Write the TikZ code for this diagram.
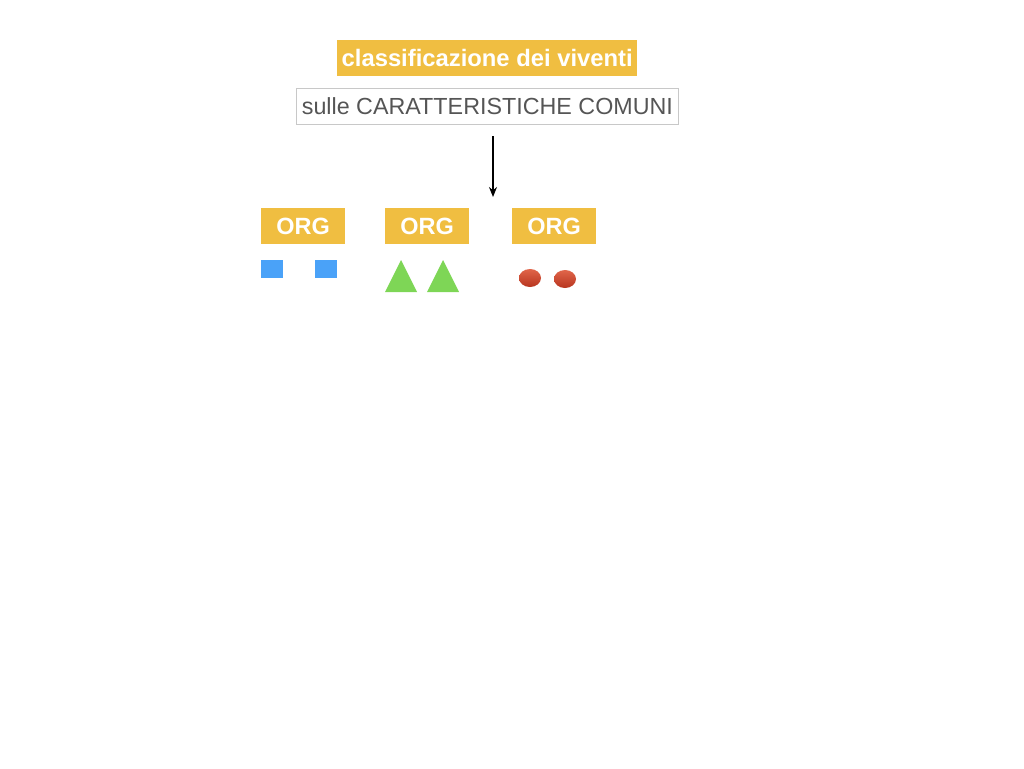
\documentclass[tikz,border=0pt]{standalone}
\usepackage{fontspec}
\setmainfont{Liberation Sans}
\usetikzlibrary{arrows.meta}
\definecolor{ybox}{HTML}{F0BE41}
\definecolor{sqblue}{HTML}{4AA2F8}
\definecolor{trgreen}{HTML}{7ED656}
\definecolor{elred}{HTML}{B8351F}
\definecolor{elredtop}{HTML}{E0654A}
\definecolor{txtgray}{HTML}{555555}
\definecolor{bordgray}{HTML}{C8C8C8}
\begin{document}
\begin{tikzpicture}[x=1pt,y=-1pt,
  ybox/.style={fill=ybox,text=white,font=\bfseries,inner sep=0pt,anchor=north west},
  orgbox/.style={ybox,minimum width=84pt,minimum height=36pt,font=\fontsize{23.5}{26}\selectfont\bfseries},
  sq/.style={fill=sqblue},
  tri/.style={fill=trgreen},
  el/.style={top color=elredtop,bottom color=elred,draw=none}]
\useasboundingbox (0,0) rectangle (1024,768);
\node[ybox,minimum width=300pt,minimum height=36pt,font=\fontsize{23.8}{26}\selectfont\bfseries] (title) at (337,40) {classificazione dei viventi};
\node[draw=bordgray,line width=0.8pt,text=txtgray,minimum width=382pt,minimum height=36pt,inner sep=0pt,anchor=north west,font=\fontsize{23.3}{26}\selectfont] (sub) at (296,88) {sulle CARATTERISTICHE COMUNI};
\coordinate (astart) at (493,136);
\coordinate (aend) at (493,197);
\draw[-{Stealth[length=10pt,width=8pt]},line width=1.3pt] (astart) -- (aend);
\node[orgbox] (org1) at (261,208) {ORG};
\node[orgbox] (org2) at (385,208) {ORG};
\node[orgbox] (org3) at (512,208) {ORG};
\fill[sq] (261,260) rectangle (283,278);
\fill[sq] (315,260) rectangle (337,278);
\fill[tri] (385,292) -- (401,260) -- (417,292) -- cycle;
\fill[tri] (427,292) -- (443,260) -- (459,292) -- cycle;
\shade[el] (530,278) ellipse [x radius=11, y radius=9];
\shade[el] (565,279) ellipse [x radius=11, y radius=9];
\end{tikzpicture}
\end{document}
